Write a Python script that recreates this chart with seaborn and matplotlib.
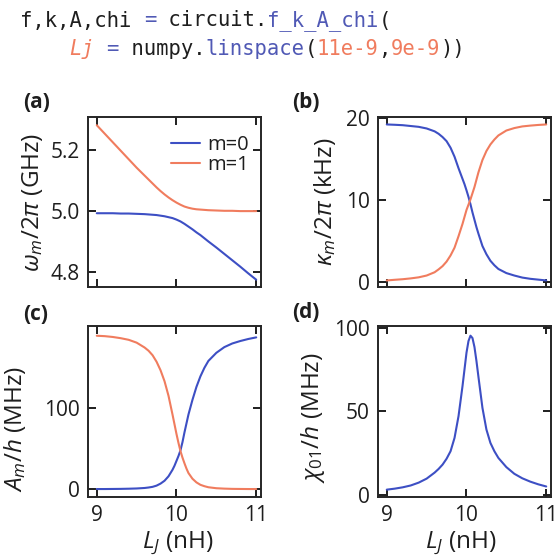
import pandas as pd
import seaborn as sns
import matplotlib.pyplot as plt

# ==========================
# Data
# ==========================

# Josephson inductance (nH)
Lj = [9.0, 9.1, 9.2, 9.3, 9.4, 9.5, 9.6, 9.65, 9.7, 9.75, 9.8, 9.85, 9.9,
      9.95, 9.975, 10.0, 10.025, 10.05, 10.075, 10.1, 10.125, 10.15, 10.2,
      10.25, 10.3, 10.35, 10.4, 10.5, 10.6, 10.7, 10.8, 10.9, 11.0]

# (a) mode frequencies omega_m / 2pi (GHz)
freq_m0 = [4.993, 4.993, 4.993, 4.992, 4.992, 4.991, 4.990, 4.989, 4.988,
           4.987, 4.985, 4.983, 4.980, 4.977, 4.9745, 4.972, 4.969, 4.966,
           4.962, 4.958, 4.9535, 4.949, 4.940, 4.930, 4.921, 4.9105, 4.900,
           4.880, 4.859, 4.838, 4.817, 4.795, 4.774]
freq_m1 = [5.283, 5.255, 5.227, 5.199, 5.171, 5.143, 5.117, 5.104, 5.091,
           5.078, 5.066, 5.055, 5.045, 5.036, 5.032, 5.028, 5.0245, 5.021,
           5.018, 5.015, 5.013, 5.011, 5.008, 5.006, 5.005, 5.004, 5.003,
           5.002, 5.001, 5.001, 5.000, 5.000, 5.000]

# (b) dissipation rates kappa_m / 2pi (kHz)
kappa_m0 = [19.24, 19.2, 19.15, 19.05, 18.95, 18.75, 18.4, 18.1, 17.7, 17.2,
            16.4, 15.3, 13.9, 12.6, 11.95, 11.2, 10.4, 9.5, 8.5, 7.6, 6.7,
            5.9, 4.4, 3.4, 2.6, 2.05, 1.6, 1.1, 0.8, 0.55, 0.4, 0.3, 0.2]
kappa_m1 = [0.2, 0.28, 0.35, 0.45, 0.58, 0.8, 1.2, 1.55, 1.95, 2.5, 3.25,
            4.2, 5.6, 7.1, 7.95, 8.8, 9.45, 10.1, 10.85, 11.6, 12.5, 13.4,
            14.9, 16.0, 16.8, 17.4, 17.9, 18.5, 18.8, 19.0, 19.1, 19.18, 19.24]

# (c) anharmonicities A_m / h (MHz)
anh_m0 = [0.3, 0.3, 0.4, 0.5, 0.7, 1.0, 1.6, 2.2, 3.0, 4.5, 7.0, 10.5, 16.0,
          24.0, 29.0, 35.0, 41.0, 48.0, 58.0, 70.0, 81.0, 92.0, 110.0, 126.0,
          139.0, 149.5, 158.0, 168.0, 175.0, 179.5, 182.5, 185.0, 187.0]
anh_m1 = [189.0, 188.5, 187.5, 186.0, 184.0, 180.5, 174.5, 170.5, 165.0,
          157.0, 146.5, 133.0, 115.0, 92.0, 80.0, 68.0, 57.0, 47.0, 39.0,
          32.0, 25.5, 20.0, 13.0, 8.5, 5.5, 3.8, 2.5, 1.3, 0.8, 0.5, 0.4,
          0.3, 0.3]

# (d) cross-Kerr chi_01 / h (MHz)
chi_01 = [3.0, 3.6, 4.4, 5.5, 7.2, 9.6, 13.2, 15.4, 18.0, 21.5, 26.0, 34.0,
          47.0, 65.0, 75.0, 85.0, 92.0, 95.2, 93.8, 88.4, 80.0, 70.5, 52.0,
          39.0, 31.0, 26.0, 22.0, 16.5, 12.5, 9.8, 7.8, 6.2, 4.9]

modes = ["m=0", "m=1"]

BLUE = "#3d4fc4"
ORANGE = "#f07c5e"
DARK = "#1e1e1e"
FN = "#5059b5"

# ==========================
# Style
# ==========================

sns.set_theme(style="ticks")
plt.rcParams["font.family"] = ["Open Sans", "DejaVu Sans"]
plt.rcParams["mathtext.fontset"] = "custom"
plt.rcParams["mathtext.rm"] = "Open Sans"
plt.rcParams["mathtext.it"] = "Open Sans:italic"
plt.rcParams["mathtext.bf"] = "Open Sans:bold"
plt.rcParams["axes.linewidth"] = 1.4
plt.rcParams["text.color"] = DARK
plt.rcParams["axes.labelcolor"] = DARK
plt.rcParams["xtick.color"] = DARK
plt.rcParams["ytick.color"] = DARK

W, H = 557, 560
fig = plt.figure(figsize=(W / 100, H / 100), dpi=100)


def add_ax(left, top, right, bottom):
    return fig.add_axes([left / W, 1 - bottom / H,
                         (right - left) / W, (bottom - top) / H])


def two_modes(v0, v1):
    return pd.DataFrame({
        "Lj": Lj + Lj,
        "value": v0 + v1,
        "mode": [modes[0]] * len(Lj) + [modes[1]] * len(Lj),
    })


ax_a = add_ax(88, 117, 261, 287)
ax_b = add_ax(378, 117, 551, 287)
ax_c = add_ax(88, 326, 261, 497)
ax_d = add_ax(378, 326, 551, 497)

for ax, (v0, v1) in zip([ax_a, ax_b, ax_c],
                        [(freq_m0, freq_m1), (kappa_m0, kappa_m1),
                         (anh_m0, anh_m1)]):
    sns.lineplot(data=two_modes(v0, v1), x="Lj", y="value", hue="mode",
                 palette=[BLUE, ORANGE], linewidth=1.5, ax=ax,
                 legend=(ax is ax_a))

sns.lineplot(x=Lj, y=chi_01, color=BLUE, linewidth=1.5, ax=ax_d)

# limits / ticks
for ax in [ax_a, ax_b, ax_c, ax_d]:
    ax.set_xlim(8.89, 11.06)
    ax.set_xticks([9, 10, 11])
    ax.tick_params(direction="in", top=True, right=True, length=5.8,
                   width=1.4, labelsize=15, pad=6)
    ax.set_xlabel("")
    ax.set_ylabel("")

ax_a.set_ylim(4.75, 5.31)
ax_a.set_yticks([4.8, 5.0, 5.2])
ax_b.set_ylim(-0.6, 20.15)
ax_b.set_yticks([0, 10, 20])
ax_c.set_ylim(-9.5, 201)
ax_c.set_yticks([0, 100])
ax_d.set_ylim(-1.4, 101)
ax_d.set_yticks([0, 50, 100])

ax_a.tick_params(labelbottom=False)
ax_b.tick_params(labelbottom=False)

# axis labels
ylabels = [
    (ax_a, r"$\omega_m/2\pi$ (GHz)", -0.318, 0.5),
    (ax_b, r"$\kappa_m/2\pi$ (kHz)", -0.305, 0.5),
    (ax_c, r"$A_m/h$ (MHz)", -0.424, 0.40),
    (ax_d, r"$\chi_{01}/h$ (MHz)", -0.377, 0.465),
]
for ax, text, x, y in ylabels:
    ax.set_ylabel(text, fontsize=17.5, va="center")
    ax.yaxis.set_label_coords(x, y)

for ax, x in [(ax_c, 0.52), (ax_d, 0.475)]:
    ax.set_xlabel(r"$L_J$ (nH)", fontsize=17.5, va="center")
    ax.xaxis.set_label_coords(x, -0.27)

# legend
ax_a.legend(frameon=False, loc="upper right", fontsize=14.5,
            handlelength=1.4, handletextpad=0.4, labelspacing=0.0,
            borderaxespad=0.0, bbox_to_anchor=(0.98, 0.94))

# panel labels
for text, x, y in [("(a)", 23, 103), ("(b)", 292, 103),
                   ("(c)", 23, 315), ("(d)", 292, 313)]:
    fig.text(x / W, 1 - y / H, text, fontsize=15, fontweight="bold",
             va="center", ha="left")

# ==========================
# Code snippet on top
# ==========================

code_fs = 14.8
char_w = 0.602 * code_fs * 100 / 72
code_lines = [
    (26.5, [("f,k,A,chi ", DARK, "normal"), ("=", FN, "normal"),
            (" circuit.", DARK, "normal"), ("f_k_A_chi", FN, "normal"),
            ("(", DARK, "normal")]),
    (55.0, [("    ", DARK, "normal"), ("Lj", ORANGE, "italic"),
            (" ", DARK, "normal"), ("=", FN, "normal"),
            (" numpy.", DARK, "normal"), ("linspace", FN, "normal"),
            ("(", DARK, "normal"), ("11e-9", ORANGE, "normal"),
            (",", DARK, "normal"), ("9e-9", ORANGE, "normal"),
            ("))", DARK, "normal")]),
]
for base_y, parts in code_lines:
    col = 0
    for text, color, style in parts:
        if text.strip():
            fig.text((20 + col * char_w) / W, 1 - base_y / H, text,
                     family="DejaVu Sans Mono", fontsize=code_fs,
                     color=color, style=style, va="baseline", ha="left")
        col += len(text)

fig.savefig("out.png", dpi=100)
plt.close(fig)
